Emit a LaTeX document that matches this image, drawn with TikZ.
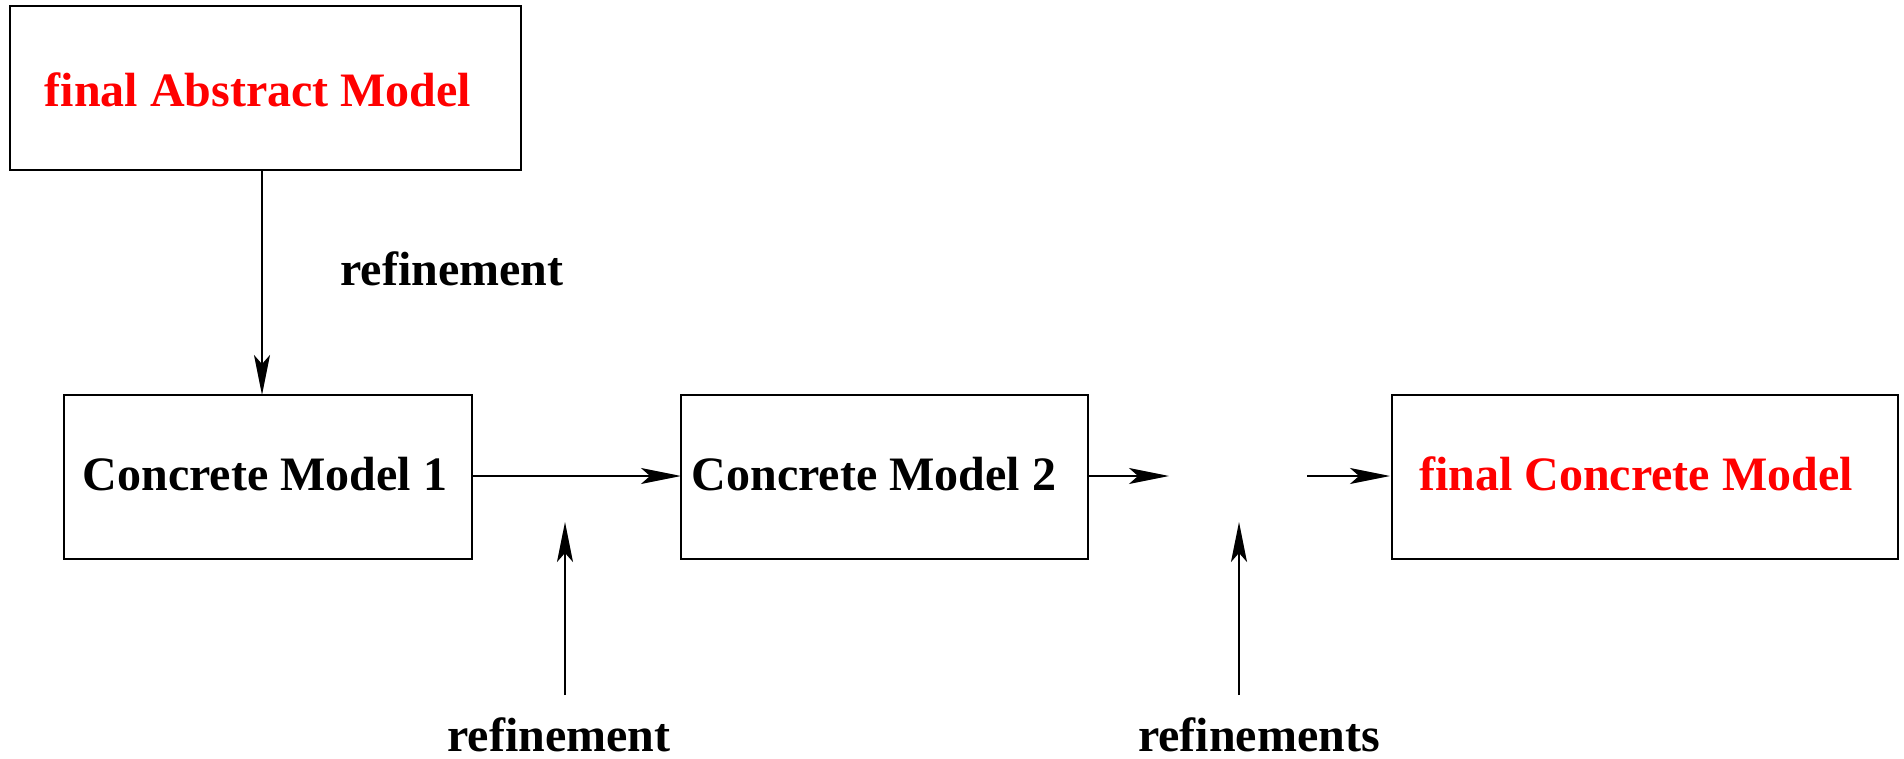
\documentclass[tikz,border=0pt]{standalone}
\usepackage{fontspec}
\setmainfont{Liberation Serif}
\usetikzlibrary{arrows.meta}
\definecolor{modelred}{RGB}{255,0,0}
\tikzset{
  modelbox/.style={draw=black, line width=2.2pt, fill=white},
  lbl/.style={font=\fontsize{48}{56}\selectfont\bfseries, text=black, inner sep=0pt},
  redlbl/.style={lbl, text=modelred},
  flow/.style={line width=2pt, -{Stealth[length=40pt, width=16pt, inset=9pt]}}
}
\begin{document}
\begin{tikzpicture}[x=1pt, y=-1pt]
  \useasboundingbox (0,0) rectangle (1904,759);
  % boxes
  \draw[modelbox] (10,6) rectangle (521,170);
  \draw[modelbox] (64,395) rectangle (472,559);
  \draw[modelbox] (681,395) rectangle (1088,559);
  \draw[modelbox] (1392,395) rectangle (1898,559);
  \coordinate (abs-b) at (262,170);
  \coordinate (c1-t) at (262,395);
  \coordinate (c1-r) at (472,476);
  \coordinate (c2-l) at (681,476);
  \coordinate (c2-r) at (1088,476);
  \coordinate (gap-l) at (1169,476);
  \coordinate (gap-r) at (1307,476);
  \coordinate (fin-l) at (1390,476);
  \coordinate (up1-s) at (565,695);
  \coordinate (up1-e) at (565,522);
  \coordinate (up2-s) at (1239,695);
  \coordinate (up2-e) at (1239,522);
  % texts
  \node[redlbl] (abs) at (258,90) {final Abstract Model};
  \node[lbl] (c1) at (265,474) {Concrete Model 1};
  \node[lbl] (c2) at (874,474) {Concrete Model 2};
  \node[redlbl] (fin) at (1636,474) {final Concrete Model};
  \node[lbl] (r1) at (452,269) {refinement};
  \node[lbl] (r2) at (559,735) {refinement};
  \node[lbl] (r3) at (1259,735) {refinements};
  % arrows
  \draw[flow] (abs-b) -- (c1-t);
  \draw[flow] (c1-r) -- (c2-l);
  \draw[flow] (c2-r) -- (gap-l);
  \draw[flow] (gap-r) -- (fin-l);
  \draw[flow] (up1-s) -- (up1-e);
  \draw[flow] (up2-s) -- (up2-e);
\end{tikzpicture}
\end{document}
